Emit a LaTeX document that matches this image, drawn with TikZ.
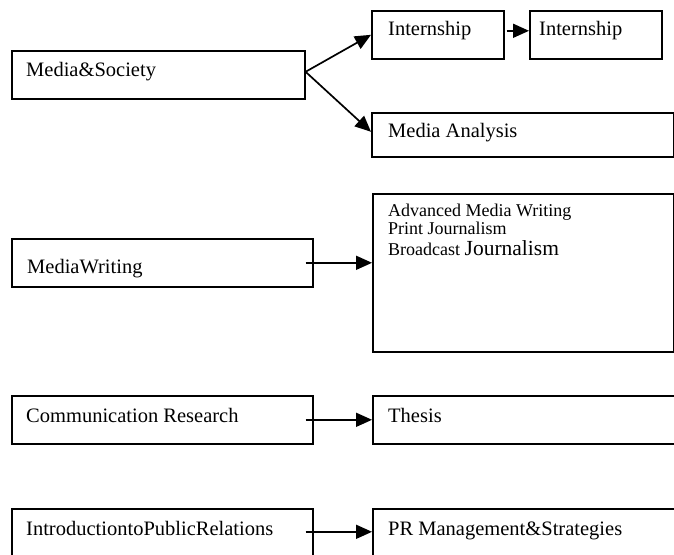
\documentclass[tikz,border=0pt]{standalone}
\usepackage{fontspec}
\setmainfont{Liberation Serif}
\usetikzlibrary{arrows.meta}
\begin{document}
\begin{tikzpicture}[x=1pt,y=-1pt,
  box/.style={draw,line width=1.6pt,rectangle,inner sep=0pt,anchor=north west},
  lbl/.style={anchor=base west,inner sep=0pt,font=\fontsize{20.5}{23}\selectfont},
  sml/.style={anchor=base west,inner sep=0pt,font=\fontsize{18}{20}\selectfont},
  conn/.style={line width=1.7pt,-{Triangle[length=16pt,width=14pt]}}]
\useasboundingbox (0,0) rectangle (674,554);
\clip (0,0) rectangle (674,554);
% boxes
\node[box,minimum width=293pt,minimum height=48pt] (ms) at (11,50) {};
\node[box,minimum width=132pt,minimum height=48pt] (i1) at (371,10) {};
\node[box,minimum width=132pt,minimum height=48pt] (i2) at (529,10) {};
\node[box,minimum width=302pt,minimum height=44pt] (ma) at (371,112) {};
\node[box,minimum width=301pt,minimum height=48pt] (mw) at (11,238) {};
\node[box,minimum width=301pt,minimum height=158pt] (amw) at (372,193) {};
\node[box,minimum width=301pt,minimum height=48pt] (cr) at (11,395) {};
\node[box,minimum width=320pt,minimum height=48pt] (th) at (372,395) {};
\node[box,minimum width=301pt,minimum height=60pt] (ipr) at (11,508) {};
\node[box,minimum width=320pt,minimum height=60pt] (pr) at (372,508) {};
% labels
\node[lbl] (tms) at (26,76) {Media\&Society};
\node[lbl] (ti1) at (388,35) {Internship};
\node[lbl] (ti2) at (539,35) {Internship};
\node[lbl] (tma) at (388,137) {Media Analysis};
\node[lbl] (tmw) at (27,273) {MediaWriting};
\node[sml] (ta1) at (388,216) {Advanced Media Writing};
\node[sml] (ta2) at (388,234) {Print Journalism};
\node[sml] (ta3) at (388,255) {Broadcast {\fontsize{21.5}{23}\selectfont Journalism}};
\node[lbl] (tcr) at (26,422) {Communication Research};
\node[lbl] (tth) at (388,422) {Thesis};
\node[lbl] (tip) at (26,535) {IntroductiontoPublicRelations};
\node[lbl] (tpr) at (388,535) {PR Management\&Strategies};
% connectors
\draw[conn] ([yshift=3pt]ms.east) -- (i1.west);
\draw[conn] ([yshift=3pt]ms.east) -- ([yshift=3pt]ma.west);
\draw[conn] ([shift={(2pt,4pt)}]i1.east) -- ([yshift=4pt]i2.west);
\draw[conn] ([xshift=-8pt]mw.east) -- (mw.east -| amw.west);
\draw[conn] ([xshift=-8pt]cr.east) -- (th.west);
\draw[conn] ([shift={(-8pt,7pt)}]ipr.east) -- ([yshift=7pt]ipr.east -| pr.west);
\end{tikzpicture}
\end{document}
